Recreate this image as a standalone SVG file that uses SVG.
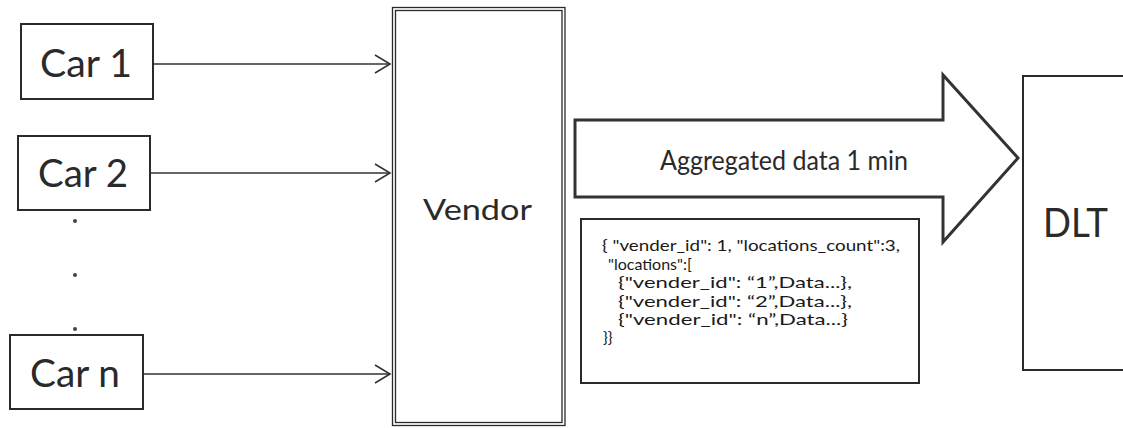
<svg xmlns="http://www.w3.org/2000/svg" width="1123" height="428" viewBox="0 0 1123 428">
<style>
.box{fill:#fff;stroke:#2a2a2a;stroke-width:2}
.thin{fill:none;stroke:#2a2a2a;stroke-width:1.3}
.lbl{font-family:Lato,"Open Sans","Liberation Sans",sans-serif;fill:#2a2a2a}
.json{font-family:Lato,"Open Sans","Liberation Sans",sans-serif;fill:#1a1a1a;font-size:16px}
.conn{fill:none;stroke:#333;stroke-width:1.6}
</style>
<defs>
<marker id="open" markerWidth="18" markerHeight="20" refX="16" refY="10" orient="auto" markerUnits="userSpaceOnUse">
<path d="M1,1 L16,10 L1,19" fill="none" stroke="#333" stroke-width="1.6"/>
</marker>
</defs>
<rect width="1123" height="428" fill="#fff"/>
<g id="car1">
<rect class="box" x="21" y="24" width="132" height="75"/>
<text class="lbl" x="40" y="77" font-size="38" textLength="92" lengthAdjust="spacingAndGlyphs">Car 1</text>
</g>
<g id="car2">
<rect class="box" x="18" y="136" width="132" height="74"/>
<text class="lbl" x="38" y="187" font-size="38" textLength="90" lengthAdjust="spacingAndGlyphs">Car 2</text>
</g>
<g id="dots">
<circle cx="75" cy="221" r="2" fill="#444"/>
<circle cx="75" cy="275" r="2" fill="#444"/>
<circle cx="75" cy="329" r="2" fill="#444"/>
</g>
<g id="carn">
<rect class="box" x="10" y="335" width="133" height="74"/>
<text class="lbl" x="30" y="387" font-size="38" textLength="90" lengthAdjust="spacingAndGlyphs">Car n</text>
</g>
<g id="vendor">
<rect class="thin" x="392.5" y="7.5" width="172.5" height="418"/>
<rect class="thin" x="395.5" y="10.5" width="166.5" height="412"/>
<text class="lbl" x="423" y="220" font-size="29" textLength="109" lengthAdjust="spacingAndGlyphs">Vendor</text>
</g>
<g id="connectors">
<line class="conn" x1="153" y1="64" x2="390" y2="64" marker-end="url(#open)"/>
<line class="conn" x1="151" y1="173" x2="390" y2="173" marker-end="url(#open)"/>
<line class="conn" x1="143" y1="374" x2="390" y2="374" marker-end="url(#open)"/>
</g>
<g id="aggregated">
<polygon points="575,120 943,120 943,75 1018,158 943,242 943,197 575,197" fill="#fff" stroke="#333" stroke-width="3" stroke-linejoin="miter"/>
<text class="lbl" x="660" y="170" font-size="27" textLength="248" lengthAdjust="spacingAndGlyphs">Aggregated data 1 min</text>
</g>
<g id="json">
<rect class="box" x="581" y="219" width="338" height="164" stroke-width="1.6"/>
<text class="json" x="602" y="251" textLength="298" lengthAdjust="spacingAndGlyphs">{ "vender_id": 1, "locations_count":3,</text>
<text class="json" x="608" y="270">"locations":[</text>
<text class="json" x="618" y="288" textLength="234" lengthAdjust="spacingAndGlyphs">{"vender_id": “1”,Data...},</text>
<text class="json" x="618" y="307" textLength="234" lengthAdjust="spacingAndGlyphs">{"vender_id": “2”,Data...},</text>
<text class="json" x="618" y="325" textLength="230" lengthAdjust="spacingAndGlyphs">{"vender_id": “n”,Data...}</text>
<text class="json" x="603" y="343">}}</text>
</g>
<g id="dlt">
<rect class="box" x="1023" y="76" width="120" height="294"/>
<text class="lbl" x="1043" y="237" font-size="40" textLength="65" lengthAdjust="spacingAndGlyphs">DLT</text>
</g>
</svg>
